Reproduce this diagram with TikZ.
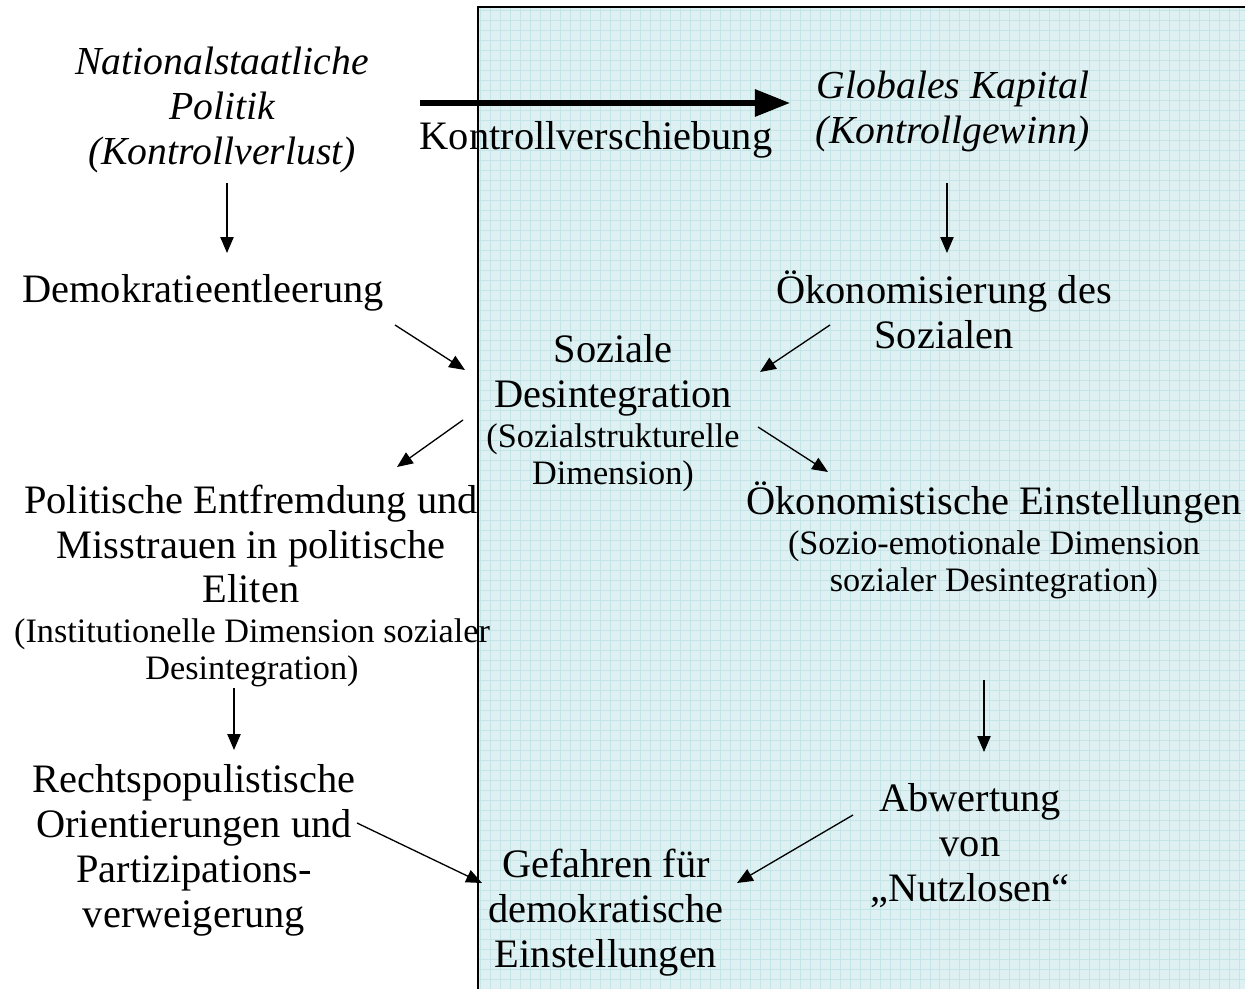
\documentclass[tikz,border=0pt]{standalone}
\usepackage{fontspec}
\setmainfont{Liberation Serif}
\usetikzlibrary{arrows.meta}
\definecolor{panelfill}{RGB}{222,240,242}
\definecolor{panelgrid}{RGB}{196,229,232}
\tikzset{
    txt/.style={align=center, inner sep=0pt, yshift=-1.7pt, font=\fontsize{23}{25.6}\selectfont},
    itxt/.style={align=center, inner sep=0pt, yshift=-1.7pt, font=\fontsize{22.6}{25.6}\selectfont\itshape},
    smalltxt/.style={align=center, inner sep=0pt, yshift=-1.7pt, font=\fontsize{19.5}{21}\selectfont},
    arr/.style={line width=0.75pt, -{Triangle[length=9pt,width=7.5pt]}},
    bigarr/.style={line width=3pt, -{Triangle[length=20pt,width=15pt]}}
}
\begin{document}
\begin{tikzpicture}[x=0.02cm, y=-0.02cm]
    \useasboundingbox (0,0) rectangle (1245,989);
    \fill[panelfill] (478,7) rectangle (1245,989);
    \draw[panelgrid, line width=0.35pt] (478,7) grid[step=0.2cm] (1245,989);
    \draw[line width=1.1pt] (478,989) -- (478,7) -- (1245,7);

    \node[itxt] (natpol) at (222,107) {Nationalstaatliche\\Politik\\(Kontrollverlust)};
    \node[itxt] (glob) at (953,108) {Globales Kapital\\(Kontrollgewinn)};
    \node[txt] (kv) at (596,137) {Kontrollverschiebung};
    \node[txt] (demo) at (203,290) {Demokratieentleerung};
    \node[txt] (oeko) at (944,307) {Ökonomisierung des\\Sozialen};
    \node[txt] (soz) at (613,372) {Soziale\\Desintegration};
    \node[smalltxt] (sozdim) at (613,455) {(Sozialstrukturelle\\Dimension)};
    \node[txt] (polit) at (251,541) {Politische Entfremdung und\\Misstrauen in politische\\Eliten};
    \node[smalltxt] (politdim) at (252,650) {(Institutionelle Dimension sozialer\\Desintegration)};
    \node[txt] (oekoe) at (994,500) {Ökonomistische Einstellungen};
    \node[smalltxt] (oekoedim) at (994,562) {(Sozio-emotionale Dimension\\sozialer Desintegration)};
    \node[txt] (recht) at (194,847) {Rechtspopulistische\\Orientierungen und\\Partizipations-\\verweigerung};
    \node[txt] (abw) at (970,843) {Abwertung\\von\\„Nutzlosen“};
    \node[txt] (gef) at (606,910) {Gefahren für\\demokratische\\Einstellungen};

    \coordinate (natpolout) at (420,103);
    \coordinate (globin) at (790,103);
    \coordinate (natpoldown) at (227,183);
    \coordinate (demoin) at (227,253);
    \coordinate (globdown) at (947,183);
    \coordinate (oekoin) at (947,253);
    \coordinate (demoout) at (395,325);
    \coordinate (sozinl) at (465,370);
    \coordinate (oekoout) at (830,325);
    \coordinate (sozinr) at (760,372);
    \coordinate (sozoutl) at (463,420);
    \coordinate (politin) at (397,467);
    \coordinate (sozoutr) at (758,427);
    \coordinate (oekoein) at (828,472);
    \coordinate (politout) at (234,688);
    \coordinate (rechtin) at (234,750);
    \coordinate (oekoeout) at (984,680);
    \coordinate (abwin) at (984,752);
    \coordinate (rechtout) at (357,823);
    \coordinate (gefinl) at (482,883);
    \coordinate (abwout) at (853,815);
    \coordinate (gefinr) at (737,883);

    \draw[bigarr] (natpolout) -- (globin);
    \draw[arr] (natpoldown) -- (demoin);
    \draw[arr] (globdown) -- (oekoin);
    \draw[arr] (demoout) -- (sozinl);
    \draw[arr] (oekoout) -- (sozinr);
    \draw[arr] (sozoutl) -- (politin);
    \draw[arr] (sozoutr) -- (oekoein);
    \draw[arr] (politout) -- (rechtin);
    \draw[arr] (oekoeout) -- (abwin);
    \draw[arr] (rechtout) -- (gefinl);
    \draw[arr] (abwout) -- (gefinr);
\end{tikzpicture}
\end{document}
